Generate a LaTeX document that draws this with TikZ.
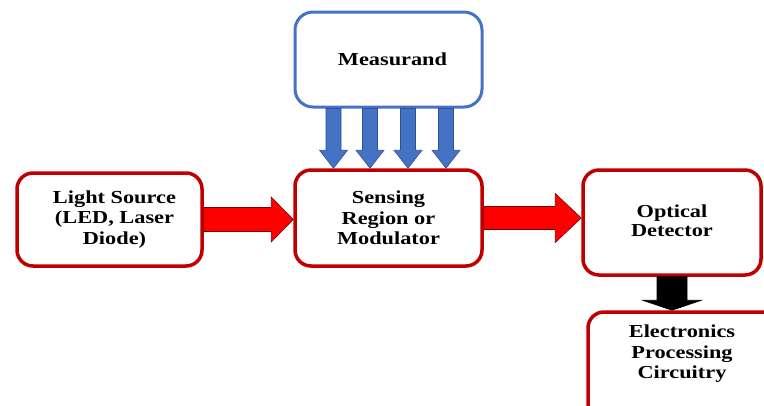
\documentclass[tikz,border=0pt]{standalone}
\usepackage{fontspec}
\setmainfont{Liberation Serif}[FakeStretch=1.22]
\usetikzlibrary{calc}
\definecolor{boxred}{HTML}{C00000}
\definecolor{boxblue}{HTML}{4472C4}
\definecolor{blueedge}{HTML}{2F528F}
\definecolor{arrowred}{HTML}{FF0000}
\definecolor{rededge}{HTML}{7A0000}

% fat block arrow pointing right: style, from, to, shaft half width, head half width, head length
\newcommand\rightfat[6]{%
  \path[#1] let \p1=(#2), \p2=(#3) in
    (\x1,\y1+#4) -- (\x2-#6,\y1+#4) -- (\x2-#6,\y1+#5) -- (\x2,\y1)
    -- (\x2-#6,\y1-#5) -- (\x2-#6,\y1-#4) -- (\x1,\y1-#4) -- cycle;}
% fat block arrow pointing down
\newcommand\downfat[6]{%
  \path[#1] let \p1=(#2), \p2=(#3) in
    (\x1-#4,\y1) -- (\x1-#4,\y2+#6) -- (\x1-#5,\y2+#6) -- (\x1,\y2)
    -- (\x1+#5,\y2+#6) -- (\x1+#4,\y2+#6) -- (\x1+#4,\y1) -- cycle;}

\begin{document}
\begin{tikzpicture}[x=1pt,y=-1pt,
  lbl/.style={font=\bfseries\fontsize{18.3}{20.5}\selectfont, align=center, inner sep=0pt},
  redbox/.style={draw=boxred, line width=3.5pt, rounded corners=16pt, fill=white,
    lbl, inner sep=0pt},
  bluebox/.style={draw=boxblue, line width=3pt, rounded corners=18pt, fill=white,
    lbl, inner sep=0pt},
  redarrow/.style={fill=arrowred, draw=rededge, line width=0.6pt},
  bluearrow/.style={fill=boxblue, draw=blueedge, line width=0.6pt},
  blackarrow/.style={fill=black, draw=black, line width=0.6pt}]
\useasboundingbox (0,0) rectangle (764,405);
\clip (0,0) rectangle (764,405);

% blocks
\node[bluebox, minimum width=187, minimum height=95] (ms) at (388.5,59.5)
  {\hspace*{8pt}Measurand};
\node[redbox, minimum width=185, minimum height=93] (ls) at (109.5,219.5)
  {\hspace*{10pt}Light Source\\\hspace*{10pt}(LED, Laser\\\hspace*{10pt}Diode)};
\node[redbox, minimum width=187, minimum height=96] (sr) at (388.5,218)
  {Sensing\\Region or\\Modulator};
\node[redbox, minimum width=178, minimum height=105] (od) at (672,222.5)
  {\raisebox{4pt}{\begin{tabular}{@{}c@{}}Optical\\[-1.5pt]Detector\end{tabular}}};
\node[redbox, minimum width=192, minimum height=110] (ep) at (684,367) {};
\node[lbl] (eptext) at (682,354) {Electronics\\Processing\\Circuitry};

% measurand acting on the sensing region
\foreach \dx in {-55,-18.5,19.5,57.5}{
  \downfat{bluearrow}{$(ms.south)+(\dx,0)$}{$(sr.north)+(\dx,0)$}{7.5}{14}{18}
}

% light path
\rightfat{redarrow}{ls.east}{sr.west}{12}{22.5}{22}
\rightfat{redarrow}{sr.east}{od.west}{11.5}{24.5}{26}

% detector output
\downfat{blackarrow}{od.south}{ep.north}{15}{29.5}{10}
\end{tikzpicture}
\end{document}
